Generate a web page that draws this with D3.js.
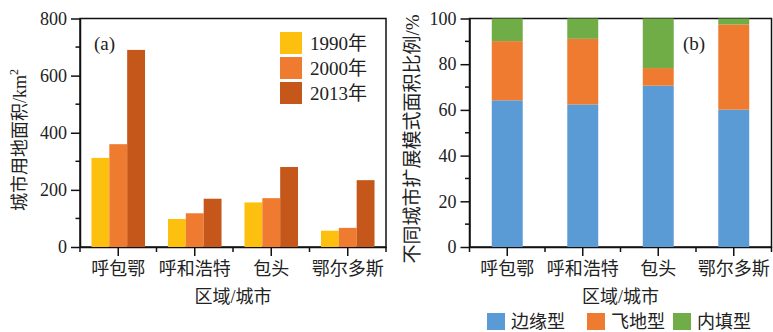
<!DOCTYPE html>
<html>
<head>
  <meta charset="utf-8">
  <title>城市用地面积与扩展模式</title>
  <script src="https://d3js.org/d3.v7.min.js"></script>
  <style>
    body { margin: 0; background: #fff; }
    text {
      font-family: "Liberation Serif", "Noto Sans CJK SC", serif;
      fill: #222;
    }
    .frame { fill: none; stroke: #111; stroke-width: 1.5; }
    .axis path { stroke: #111; stroke-width: 1.5; }
    .axis line { stroke: #111; stroke-width: 1.5; }
    .axis text { font-size: 18px; fill: #222; }
  </style>
</head>
<body>
<script>

// data
var cities = ["呼包鄂", "呼和浩特", "包头", "鄂尔多斯"];
var years = ["1990年", "2000年", "2013年"];
var area1990 = [312, 98, 156, 57];
var area2000 = [360, 118, 171, 67];
var area2013 = [690, 169, 280, 234];
var areaTicks = [0, 200, 400, 600, 800];

var modes = ["边缘型", "飞地型", "内填型"];
var edgeType = [64.2, 62.4, 70.6, 60.1];
var leapType = [25.9, 28.7, 7.7, 37.3];
var fillType = [9.9, 8.9, 21.7, 2.6];
var shareTicks = [0, 20, 40, 60, 80, 100];

var yearColors = ["#fdc00e", "#ee7b30", "#c5571a"];
var modeColors = ["#5b9bd5", "#ee7b30", "#70ad47"];

var w = 773, h = 332;
var plotTop = 18.5, plotBottom = 247;

var svg = d3.select("body").append("svg")
  .attr("width", w)
  .attr("height", h);

// draws frame + axes for one panel, returns scales
function panel(x0, x1, yMax, ticks, minorStep) {
  var x = d3.scaleBand().domain(cities).range([x0, x1]);
  var y = d3.scaleLinear().domain([0, yMax]).range([plotBottom, plotTop]);

  svg.append("rect")
    .attr("class", "frame")
    .attr("x", x0).attr("y", plotTop)
    .attr("width", x1 - x0).attr("height", plotBottom - plotTop);

  // minor ticks
  var minor = d3.range(minorStep, yMax, minorStep * 2);
  svg.append("g").selectAll("line")
    .data(minor)
    .enter().append("line")
    .attr("x1", x0 - 4.5).attr("x2", x0)
    .attr("y1", function(d) { return y(d); })
    .attr("y2", function(d) { return y(d); })
    .attr("stroke", "#111").attr("stroke-width", 1.5);

  var bounds = d3.range(cities.length + 1).map(function(i) { return x0 + i * x.step(); });
  svg.append("g").selectAll("line")
    .data(bounds)
    .enter().append("line")
    .attr("x1", function(d) { return d; })
    .attr("x2", function(d) { return d; })
    .attr("y1", plotBottom).attr("y2", plotBottom + 5)
    .attr("stroke", "#111").attr("stroke-width", 1.5);

  var yAxis = d3.axisLeft(y).tickValues(ticks).tickSize(9).tickPadding(4).tickSizeOuter(0);
  svg.append("g")
    .attr("class", "axis")
    .attr("transform", "translate(" + x0 + ",0)")
    .call(yAxis);

  var xAxis = d3.axisBottom(x).tickSize(9).tickPadding(6).tickSizeOuter(0);
  svg.append("g")
    .attr("class", "axis")
    .attr("transform", "translate(0," + plotBottom + ")")
    .call(xAxis);

  svg.append("text")
    .attr("x", (x0 + x1) / 2)
    .attr("y", 303)
    .attr("text-anchor", "middle")
    .attr("font-size", "18px")
    .text("区域/城市");

  return { x: x, y: y };
}

// ---- (a) grouped bars
var a = panel(80, 386, 800, areaTicks, 100);
a.x.paddingInner(0.3).paddingOuter(0.15);
var inner = d3.scaleBand().domain(years).range([0, a.x.bandwidth()]);
var areas = [area1990, area2000, area2013];

years.forEach(function(yr, k) {
  svg.append("g").selectAll("rect")
    .data(areas[k])
    .enter().append("rect")
    .attr("x", function(d, i) { return a.x(cities[i]) + inner(yr); })
    .attr("y", function(d) { return a.y(d); })
    .attr("width", inner.bandwidth())
    .attr("height", function(d) { return a.y(0) - a.y(d); })
    .attr("fill", yearColors[k]);
});

svg.append("text")
  .attr("x", 94).attr("y", 50)
  .attr("font-size", "19px")
  .text("(a)");

var legA = svg.append("g").selectAll("g")
  .data(years)
  .enter().append("g")
  .attr("transform", function(d, i) { return "translate(280," + (32 + i * 25) + ")"; });
legA.append("rect")
  .attr("width", 22).attr("height", 22)
  .attr("fill", function(d, i) { return yearColors[i]; });
legA.append("text")
  .attr("x", 30).attr("y", 18)
  .attr("font-size", "19px")
  .text(function(d) { return d; });

var titleA = svg.append("text")
  .attr("transform", "translate(26,140) rotate(-90)")
  .attr("text-anchor", "middle")
  .attr("font-size", "18px");
titleA.append("tspan").text("城市用地面积/km");
titleA.append("tspan").attr("dy", -8).attr("font-size", "12px").text("2");

// ---- (b) stacked bars
var b = panel(469.5, 771.5, 100, shareTicks, 10);
b.x.paddingInner(0.59).paddingOuter(0.295);

var rows = cities.map(function(c, i) {
  return { city: c, "边缘型": edgeType[i], "飞地型": leapType[i], "内填型": fillType[i] };
});
var stack = d3.stack().keys(modes)(rows);

svg.append("g").selectAll("g")
  .data(stack)
  .enter().append("g")
  .attr("fill", function(d, i) { return modeColors[i]; })
  .selectAll("rect")
  .data(function(d) { return d; })
  .enter().append("rect")
  .attr("x", function(d) { return b.x(d.data.city); })
  .attr("y", function(d) { return b.y(Math.min(d[1], 100)); })
  .attr("width", b.x.bandwidth())
  .attr("height", function(d) { return b.y(d[0]) - b.y(Math.min(d[1], 100)); });

svg.append("text")
  .attr("x", 683).attr("y", 50)
  .attr("font-size", "19px")
  .text("(b)");

svg.append("text")
  .attr("transform", "translate(419,139) rotate(-90)")
  .attr("text-anchor", "middle")
  .attr("font-size", "19px")
  .text("不同城市扩展模式面积比例/%");

var legB = svg.append("g").selectAll("g")
  .data(modes)
  .enter().append("g")
  .attr("transform", function(d, i) { return "translate(" + [487, 587, 673][i] + ",313)"; });
legB.append("rect")
  .attr("width", 18).attr("height", 17)
  .attr("fill", function(d, i) { return modeColors[i]; });
legB.append("text")
  .attr("x", 24).attr("y", 15)
  .attr("font-size", "18px")
  .text(function(d) { return d; });

</script>
</body>
</html>
